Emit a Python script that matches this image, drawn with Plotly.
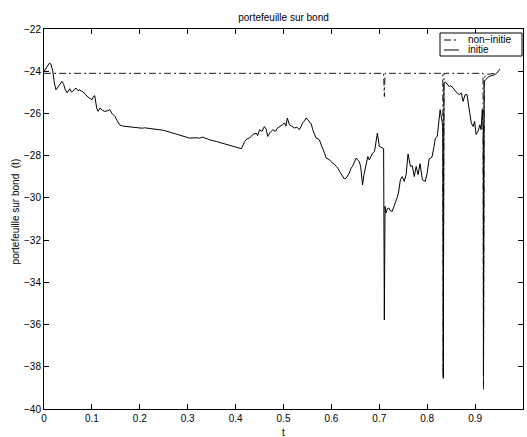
import plotly.graph_objects as go

# ---- data ----
t_initie = [0, 0.006, 0.011, 0.014, 0.018, 0.022, 0.025, 0.031, 0.0375, 0.041, 0.044, 0.048,
            0.051, 0.054, 0.057, 0.06, 0.064, 0.067, 0.071, 0.075, 0.078, 0.081, 0.086, 0.09,
            0.095, 0.1, 0.103, 0.106, 0.11, 0.113, 0.117, 0.122, 0.127, 0.132, 0.1375, 0.142,
            0.148, 0.153, 0.158, 0.165, 0.18, 0.195, 0.205, 0.21, 0.22, 0.235, 0.24, 0.25,
            0.26, 0.275, 0.29, 0.304, 0.315, 0.325, 0.331, 0.346, 0.36, 0.377, 0.395, 0.405,
            0.412, 0.419, 0.424, 0.429, 0.436, 0.443, 0.446, 0.45, 0.455, 0.46, 0.464, 0.467,
            0.472, 0.478, 0.483, 0.487, 0.492, 0.497, 0.502, 0.505, 0.508, 0.5125, 0.517, 0.523,
            0.528, 0.533, 0.537, 0.54, 0.544, 0.547, 0.551, 0.554, 0.558, 0.561, 0.568, 0.572,
            0.575, 0.579, 0.582, 0.586, 0.589, 0.596, 0.602, 0.606, 0.61, 0.614, 0.617, 0.623,
            0.627, 0.631, 0.634, 0.6375, 0.641, 0.644, 0.648, 0.652, 0.655, 0.658, 0.661, 0.665,
            0.668, 0.671, 0.676, 0.679, 0.683, 0.686, 0.69, 0.693, 0.696, 0.7, 0.704, 0.709,
            0.7105, 0.712, 0.714, 0.717, 0.72, 0.723, 0.727, 0.73, 0.733, 0.737, 0.74, 0.744,
            0.748, 0.752, 0.756, 0.76, 0.763, 0.765, 0.769, 0.773, 0.777, 0.779, 0.781, 0.785,
            0.79, 0.796, 0.8, 0.804, 0.81, 0.814, 0.817, 0.821, 0.824, 0.827, 0.831, 0.8325,
            0.8335, 0.835, 0.8375, 0.842, 0.846, 0.85, 0.856, 0.8625, 0.867, 0.871, 0.875, 0.879,
            0.883, 0.8875, 0.892, 0.896, 0.899, 0.902, 0.906, 0.91, 0.9125, 0.915, 0.917, 0.9175,
            0.919, 0.922, 0.929, 0.935, 0.94, 0.945, 0.952]
y_initie = [-24.02, -23.83, -23.62, -23.65, -23.95, -24.6, -24.88, -24.69, -24.48, -24.62, -24.85, -25.02,
            -24.9, -24.83, -24.98, -24.96, -24.85, -24.8, -24.92, -24.88, -24.95, -24.97, -25.1, -25.19,
            -25.28, -25.35, -25.2, -25.16, -25.75, -25.9, -25.74, -25.85, -25.9, -25.88, -25.82, -26.0,
            -26.14, -26.35, -26.54, -26.6, -26.64, -26.66, -26.7, -26.68, -26.72, -26.76, -26.77, -26.8,
            -26.87, -26.98, -27.06, -27.17, -27.15, -27.17, -27.12, -27.25, -27.33, -27.44, -27.58, -27.62,
            -27.67, -27.33, -27.2, -27.17, -27.0, -26.93, -27.05, -26.77, -26.85, -26.62, -26.75, -27.09,
            -26.9, -26.77, -26.85, -26.7, -26.64, -26.55, -26.45, -26.6, -26.22, -26.54, -26.6, -26.69,
            -26.65, -26.77, -26.6, -26.45, -26.35, -26.22, -26.3, -26.38, -26.5, -26.77, -27.17, -27.2,
            -27.25, -27.5, -27.72, -27.9, -28.11, -28.19, -28.35, -28.4, -28.51, -28.6, -28.75, -28.99,
            -29.1, -29.06, -28.95, -28.82, -28.6, -28.51, -28.3, -28.11, -28.2, -28.27, -28.5, -29.38,
            -28.9, -28.51, -28.04, -28.2, -28.0, -27.88, -27.8, -27.4, -26.93, -27.56, -27.62, -27.67,
            -35.78, -30.4, -30.72, -30.5, -30.48, -30.6, -30.64, -30.4, -30.25, -30.0, -29.77, -29.14,
            -28.99, -29.22, -28.9, -27.92, -28.4, -28.51, -28.48, -28.99, -28.51, -28.7, -28.9, -28.38,
            -29.14, -29.22, -28.82, -28.16, -28.07, -27.6, -27.17, -27.09, -26.4, -25.82, -26.38, -26.62,
            -38.55, -24.6, -24.5, -24.64, -24.72, -24.69, -24.88, -25.03, -25.11, -25.03, -25.43, -25.11,
            -25.11, -25.82, -26.45, -26.62, -26.38, -27.0, -26.85, -26.54, -26.77, -25.82, -26.69, -38.45,
            -24.5, -24.4, -24.25, -24.2, -24.17, -24.1, -23.9]

t_non = [0, 0.709, 0.7105, 0.712, 0.8325, 0.8335, 0.835, 0.9165, 0.9175, 0.919, 0.922, 0.945]
y_non = [-24.1, -24.1, -25.2, -24.1, -24.1, -38.5, -24.1, -24.1, -39.1, -24.4, -24.15, -24.1]

series_names = ["non\u2212initie", "initie"]
x_ticks = [0, 0.1, 0.2, 0.3, 0.4, 0.5, 0.6, 0.7, 0.8, 0.9]
y_ticks = [-40, -38, -36, -34, -32, -30, -28, -26, -24, -22]

FONT = "Liberation Sans, Arial, Helvetica, sans-serif"
FS = 10
W, H = 527, 437
ML, MR, MT, MB = 44, 4, 29, 28
PW, PH = W - ML - MR, H - MT - MB
DASHDOT = "7px,3px,2px,3px"


def px(xp):
    return (xp - ML) / PW


def py(yp):
    return 1 - (yp - MT) / PH


fig = go.Figure()
fig.add_trace(go.Scatter(x=t_non, y=y_non, mode="lines", name=series_names[0],
                         showlegend=False,
                         line=dict(color="black", width=0.9, dash=DASHDOT)))
fig.add_trace(go.Scatter(x=t_initie, y=y_initie, mode="lines", name=series_names[1],
                         showlegend=False,
                         line=dict(color="black", width=1)))

axis_common = dict(showline=True, linecolor="black", linewidth=1, mirror="allticks",
                   ticks="inside", ticklen=5, tickcolor="black", tickwidth=1,
                   showgrid=False, zeroline=False,
                   tickfont=dict(family=FONT, size=FS, color="black"))

# compact MATLAB-style legend box (top right)
lg_left, lg_right, lg_top, lg_bot = 440, 522, 33, 56
rows = [40, 50]
shapes = [dict(type="rect", xref="paper", yref="paper",
               x0=px(lg_left), x1=px(lg_right), y0=py(lg_bot), y1=py(lg_top),
               line=dict(color="black", width=1), fillcolor="white", layer="above")]
annotations = []
for name, dash, yr in zip(series_names, [DASHDOT, "solid"], rows):
    shapes.append(dict(type="line", xref="paper", yref="paper",
                       x0=px(444), x1=px(459), y0=py(yr), y1=py(yr),
                       line=dict(color="black", width=1, dash=dash), layer="above"))
    annotations.append(dict(text=name, xref="paper", yref="paper", x=px(466), y=py(yr),
                            xanchor="left", yanchor="middle", showarrow=False,
                            font=dict(family=FONT, size=FS, color="black")))

annotations += [
    dict(text="t", xref="paper", yref="paper", x=0.5, y=0, xanchor="center",
         yanchor="middle", yshift=-23, showarrow=False,
         font=dict(family=FONT, size=FS, color="black")),
    dict(text="portefeuille sur bond\u00a0\u00a0(t)", xref="paper", yref="paper",
         x=0, y=0.52, xanchor="center", yanchor="middle", xshift=-29, textangle=-90,
         showarrow=False, font=dict(family=FONT, size=FS, color="black")),
]

fig.update_layout(
    width=W, height=H,
    margin=dict(l=ML, r=MR, t=MT, b=MB),
    paper_bgcolor="white", plot_bgcolor="white",
    font=dict(family=FONT, size=FS, color="black"),
    title=dict(text="portefeuille sur bond", x=0.5, xanchor="center", xref="paper",
               y=1 - 17 / H, yref="container", yanchor="middle",
               font=dict(family=FONT, size=FS, color="black")),
    xaxis=dict(range=[0, 1], tickvals=x_ticks, ticktext=[f"{v:g}" for v in x_ticks],
               **axis_common),
    yaxis=dict(range=[-40, -22], tickvals=y_ticks, **axis_common),
    showlegend=False,
    shapes=shapes,
    annotations=annotations,
)

fig.write_html("out.html", config={"displayModeBar": False},
               post_script="document.body.style.margin='0px';")
